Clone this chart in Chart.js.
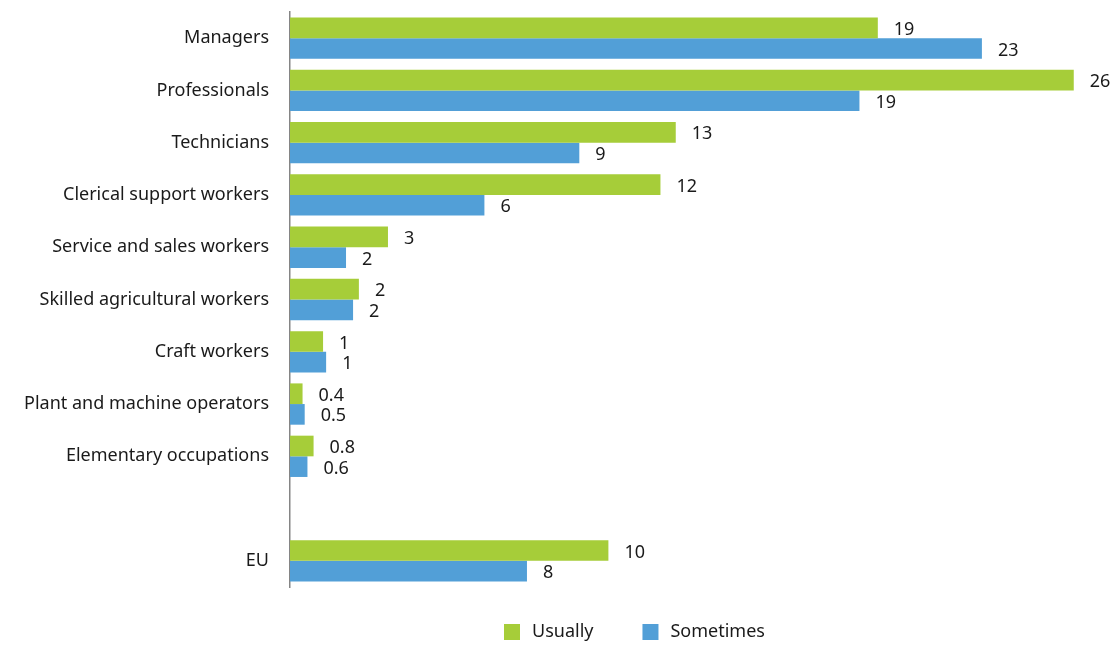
<!DOCTYPE html>
<html>
<head>
<meta charset="utf-8">
<script src="https://cdn.jsdelivr.net/npm/chart.js@4"></script>
<style>
  html, body { margin: 0; padding: 0; background: #fff; }
  #wrap { width: 1115px; height: 646px; }
</style>
</head>
<body>
<div id="wrap"><canvas id="myChart" width="1115" height="646"></canvas></div>
<script>
const labels = [
    'Managers',
    'Professionals',
    'Technicians',
    'Clerical support workers',
    'Service and sales workers',
    'Skilled agricultural workers',
    'Craft workers',
    'Plant and machine operators',
    'Elementary occupations',
    '',
    'EU'
];

// percentages
const usually = [19.2, 25.6, 12.6, 12.1, 3.2, 2.25, 1.08, 0.41, 0.77, null, 10.4];
const sometimes = [22.6, 18.6, 9.45, 6.35, 1.83, 2.06, 1.18, 0.48, 0.57, null, 7.74];

const green = '#a6cd39';
const blue = '#529fd7';
const textColor = '#1a1a1a';
const fontFamily = '"Noto Sans", sans-serif';

function fmt(v) {
    return v < 1 ? v.toFixed(1) : String(Math.round(v));
}

// value labels at the end of each bar
const barValues = {
    id: 'barValues',
    afterDatasetsDraw(chart) {
        const ctx = chart.ctx;
        ctx.save();
        ctx.font = '18px ' + fontFamily;
        ctx.fillStyle = textColor;
        ctx.textAlign = 'left';
        ctx.textBaseline = 'middle';
        chart.data.datasets.forEach((ds, i) => {
            chart.getDatasetMeta(i).data.forEach((bar, j) => {
                const v = ds.data[j];
                if (v == null) return;
                ctx.fillText(fmt(v), bar.x + 16, bar.y + 2);
            });
        });
        ctx.restore();
    }
};

// legend under the plot, square swatches
const bottomLegend = {
    id: 'bottomLegend',
    afterDraw(chart) {
        const ctx = chart.ctx;
        ctx.save();
        ctx.font = '18px ' + fontFamily;
        ctx.textBaseline = 'middle';
        ctx.textAlign = 'left';
        let x = 504;
        const y = 632;
        chart.data.datasets.forEach(ds => {
            ctx.fillStyle = ds.backgroundColor;
            ctx.fillRect(x, y - 8, 16, 16);
            ctx.fillStyle = textColor;
            ctx.fillText(ds.label, x + 28, y);
            x += 28 + ctx.measureText(ds.label).width + 49;
        });
        ctx.restore();
    }
};

const data = {
    labels: labels,
    datasets: [{
        label: 'Usually',
        data: usually,
        backgroundColor: green,
        borderWidth: 0,
        categoryPercentage: 0.79,
        barPercentage: 1.0
    }, {
        label: 'Sometimes',
        data: sometimes,
        backgroundColor: blue,
        borderWidth: 0,
        categoryPercentage: 0.79,
        barPercentage: 1.0
    }]
};

const config = {
    type: 'bar',
    data: data,
    plugins: [barValues, bottomLegend],
    options: {
        indexAxis: 'y',
        responsive: false,
        animation: false,
        layout: {
            padding: { top: 12, right: 29, left: 0, bottom: 59 }
        },
        scales: {
            x: {
                display: false,
                min: 0,
                max: 26
            },
            y: {
                afterFit(scale) {
                    scale.width = 290;
                    scale.paddingTop = 0;
                    scale.paddingBottom = 0;
                },
                grid: { display: false, drawTicks: false },
                border: { display: true, color: '#858585', width: 1.5 },
                ticks: {
                    color: textColor,
                    padding: 21,
                    font: { family: fontFamily, size: 18 }
                }
            }
        },
        plugins: {
            legend: { display: false },
            tooltip: { enabled: false }
        }
    }
};

function makeChart() {
    const myChart = new Chart(
        document.getElementById('myChart'),
        config
    );
}

makeChart();
</script>
</body>
</html>
